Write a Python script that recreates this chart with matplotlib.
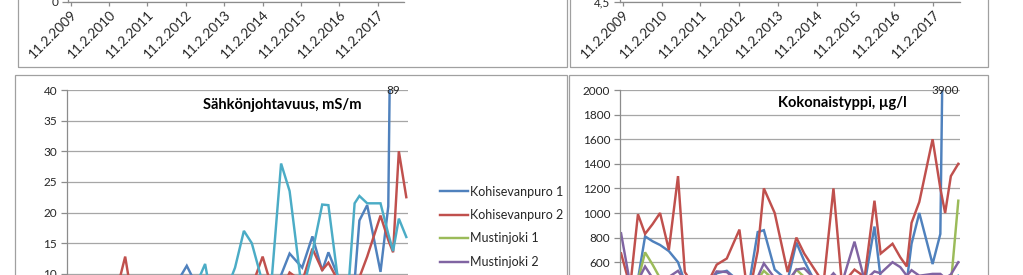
import matplotlib
matplotlib.use("Agg")
import matplotlib.pyplot as plt
from matplotlib.patches import Rectangle
import numpy as np
import pandas as pd

plt.rcParams["font.family"] = ["Lato", "DejaVu Sans"]

# ---------------------------------------------------------------- data
sample_dates = pd.to_datetime([
    "2009-01-25", "2009-04-21", "2009-07-03", "2009-09-08", "2009-11-18",
    "2010-01-27", "2010-04-20", "2010-07-15", "2010-09-17", "2010-12-03",
    "2011-02-20", "2011-05-01", "2011-07-14", "2011-10-17", "2012-02-13",
    "2012-05-06", "2012-08-03", "2012-09-30", "2013-01-10", "2013-05-11",
    "2013-08-02", "2013-10-15", "2014-01-25", "2014-04-15", "2014-07-17",
    "2014-10-05", "2015-01-31", "2015-05-07", "2015-08-07", "2015-10-04",
    "2016-01-24", "2016-04-06", "2016-06-06", "2016-07-21", "2016-10-02",
    "2017-02-04", "2017-04-18", "2017-06-02", "2017-07-26", "2017-10-04",
])

series_names = ["Kohisevanpuro 1", "Kohisevanpuro 2", "Mustinjoki 1",
                "Mustinjoki 2", "Mustinjoki 3"]
series_colors = ["#4F81BD", "#C0504D", "#9BBB59", "#8064A2", "#4BACC6"]

nan = float("nan")

# Sähkönjohtavuus, mS/m
cond_k1 = [6.5, 5.8, 7.2, 6.0, 5.5, 6.8, 7.5, 8.2, 6.1, 5.4,
           6.3, 7.0, 6.6, 7.8, 11.3, 8.4, 6.9, 7.4, 6.2, 5.9,
           7.1, 8.0, 6.7, 7.6, 9.8, 13.3, 11.0, 16.1, 10.5, 13.5,
           8.6, 7.3, 8.8, 18.7, 21.2, 10.3, 21.0, 89.0, nan, nan]
cond_k2 = [5.2, 4.8, 6.0, 5.1, 4.6, 5.5, 6.8, 12.8, 6.0, 4.9,
           5.6, 6.2, 5.8, 6.5, 7.4, 6.1, 5.7, 6.4, 5.3, 5.0,
           6.6, 7.9, 12.8, 8.1, 7.2, 10.2, 8.7, 14.1, 10.6, 11.8,
           8.2, 7.5, 8.0, 9.4, 12.8, 19.5, 15.5, 13.5, 30.0, 22.5]
cond_m1 = [3.1, 2.9, 3.4, 3.0, 2.8, 3.2, 3.6, 3.9, 3.3, 2.9,
           3.1, 3.5, 3.3, 3.7, 4.0, 3.6, 3.2, 3.4, 3.0, 2.9,
           3.5, 3.8, 3.6, 3.4, 3.9, 4.2, 3.7, 4.4, 4.0, 4.1,
           3.6, 3.4, 3.8, 4.3, 4.6, 4.2, 4.5, 4.8, 5.2, 4.9]
cond_m2 = [4.4, 4.1, 4.8, 4.3, 4.0, 4.6, 5.0, 5.4, 4.7, 4.2,
           4.5, 4.9, 4.6, 5.1, 5.5, 5.0, 4.6, 4.9, 4.4, 4.2,
           4.9, 5.3, 5.0, 4.8, 5.4, 5.8, 5.2, 6.0, 5.5, 5.7,
           5.1, 4.9, 5.3, 6.1, 6.4, 5.9, 6.2, 6.6, 7.1, 6.8]
cond_m3 = [6.0, 5.5, 6.6, 5.8, 5.2, 6.2, 7.0, 7.6, 6.4, 5.9,
           6.5, 7.1, 6.9, 7.4, 7.9, 8.0, 11.6, 6.0, 5.5, 11.0,
           17.0, 15.0, 8.5, 8.0, 28.0, 23.5, 7.0, 13.5, 21.3, 21.2,
           6.0, 7.0, 21.5, 22.7, 21.5, 21.5, 16.5, 13.7, 19.0, 16.0]

# Kokonaistyppi, µg/l
ntot_k1 = [450, 380, 460, 810, 770, 740, 690, 600, 440, 400,
           380, 420, 510, 530, 440, 380, 845, 860, 540, 450,
           760, 610, 440, 400, 460, 430, 470, 430, 890, 470,
           420, 400, 440, 750, 1000, 585, 830, 3900, nan, nan]
ntot_k2 = [672, 400, 990, 830, 910, 1000, 700, 1300, 520, 420,
           380, 450, 580, 630, 865, 300, 690, 1200, 1000, 520,
           800, 670, 535, 430, 1200, 420, 540, 480, 1100, 670,
           750, 640, 565, 920, 1090, 1600, 1200, 1000, 1300, 1400]
ntot_m1 = [420, 380, 450, 680, 580, 470, 430, 460, 400, 380,
           360, 390, 470, 480, 410, 380, 460, 530, 450, 420,
           540, 480, 430, 400, 470, 410, 440, 420, 480, 450,
           430, 410, 420, 460, 440, 430, 420, 410, 420, 1100]
ntot_m2 = [835, 420, 450, 565, 470, 430, 480, 530, 450, 410,
           390, 430, 525, 520, 430, 400, 480, 590, 470, 440,
           540, 550, 460, 420, 510, 430, 767, 450, 525, 510,
           600, 560, 490, 535, 490, 505, 505, 470, 500, 600]
ntot_m3 = [330, 310, 350, 360, 320, 300, 340, 380, 320, 300,
           290, 310, 350, 360, 330, 300, 360, 380, 340, 320,
           370, 360, 330, 310, 380, 340, 330, 320, 360, 350,
           330, 320, 340, 370, 380, 360, 350, 400, 420, 490]

cond_series = [cond_k1, cond_k2, cond_m1, cond_m2, cond_m3]
ntot_series = [ntot_k1, ntot_k2, ntot_m1, ntot_m2, ntot_m3]

date_ticks = pd.to_datetime([f"{y}-02-11" for y in range(2009, 2018)])
date_tick_labels = [f"11.2.{y}" for y in range(2009, 2018)]
x_start, x_end = pd.Timestamp("2009-01-15"), pd.Timestamp("2017-10-20")

cond_ticks = [0, 5, 10, 15, 20, 25, 30, 35, 40]
ntot_ticks = [0, 200, 400, 600, 800, 1000, 1200, 1400, 1600, 1800, 2000]
ph_ticks = [4.5, 5.0, 5.5, 6.0, 6.5, 7.0, 7.5]

cond_title = "Sähkönjohtavuus, mS/m"
ntot_title = "Kokonaistyppi, µg/l"

# ---------------------------------------------------------------- layout
W, H = 1023, 275
fig = plt.figure(figsize=(W / 100, H / 100), dpi=100)
fig.patch.set_facecolor("white")

GRID = "#A6A6A6"
AXIS = "#8C8C8C"
FRAME = "#A0A0A0"
TEXT = "#262626"
TICK_FS = 8.5
DATE_FS = 9.8
LINE_W = 1.75


def fx(px):
    return px / W


def fy(py):
    return 1 - py / H


def add_axes_px(x0, x1, y_top, y_bottom):
    return fig.add_axes([fx(x0), fy(y_bottom), (x1 - x0) / W, (y_bottom - y_top) / H])


def frame(x0, y0, x1, y1):
    fig.add_artist(Rectangle((fx(x0), fy(y1)), (x1 - x0) / W, (y1 - y0) / H,
                             transform=fig.transFigure, fill=False,
                             edgecolor=FRAME, linewidth=0.9))


def style_axes(ax, yticks, ylim, fmt=None):
    ax.set_xlim(x_start, x_end)
    ax.set_ylim(*ylim)
    ax.set_yticks(yticks)
    if fmt:
        ax.set_yticklabels([fmt(v) for v in yticks])
    for side in ("top", "right"):
        ax.spines[side].set_visible(False)
    for side in ("left", "bottom"):
        ax.spines[side].set_color(AXIS)
        ax.spines[side].set_linewidth(0.9)
    ax.yaxis.grid(True, color=GRID, linewidth=0.9)
    ax.set_axisbelow(True)
    ax.tick_params(axis="y", length=4, width=0.9, color=AXIS, labelsize=TICK_FS,
                   labelcolor=TEXT, pad=3)
    ax.set_xticks(date_ticks)
    ax.set_xticklabels(date_tick_labels, rotation=45, ha="right",
                       rotation_mode="anchor")
    ax.tick_params(axis="x", length=3, width=0.9, color=AXIS, labelsize=DATE_FS,
                   labelcolor=TEXT, pad=1.5)
    ax.patch.set_alpha(0)


# chart frames
frame(18, -10, 567, 66.7)
frame(569.5, -10, 988, 66.7)
frame(15, 75, 567, 300)
frame(569, 75, 988, 300)

# upper charts: only their date axes are in view
ax_tl = add_axes_px(68, 404, -240, 2)
style_axes(ax_tl, cond_ticks, (0, 40))
ax_tr = add_axes_px(620, 960, -240, 2)
style_axes(ax_tr, ph_ticks, (4.5, 7.5),
           fmt=lambda v: f"{v:.1f}".replace(".", ","))

# Sähkönjohtavuus
ax_c = add_axes_px(67, 408, 90, 335)
style_axes(ax_c, cond_ticks, (0, 40))
cond_lines = []
for name, color, vals in zip(series_names, series_colors, cond_series):
    ln, = ax_c.plot(sample_dates, vals, color=color, linewidth=LINE_W,
                    label=name, solid_joinstyle="miter")
    cond_lines.append(ln)
i_peak = int(np.nanargmax(cond_k1))
ax_c.text(sample_dates[i_peak], 40, f"{cond_k1[i_peak]:g}", ha="center",
          va="center", fontsize=TICK_FS, color=TEXT)
fig.text(fx(282), fy(105), cond_title, ha="center", va="center",
         fontsize=10.5, fontweight="bold", color="black")

# Kokonaistyppi
ax_n = add_axes_px(620, 960, 90, 336)
style_axes(ax_n, ntot_ticks, (0, 2000))
for name, color, vals in zip(series_names, series_colors, ntot_series):
    ax_n.plot(sample_dates, vals, color=color, linewidth=LINE_W, label=name,
              solid_joinstyle="miter")
j_peak = int(np.nanargmax(ntot_k1))
ax_n.text(sample_dates[j_peak], 2000, f"{ntot_k1[j_peak]:g}", ha="center",
          va="center", fontsize=TICK_FS, color=TEXT)
fig.text(fx(842), fy(103), ntot_title, ha="center", va="center",
         fontsize=10.5, fontweight="bold", color="black")

fig.legend(handles=cond_lines, loc="upper left",
           bbox_to_anchor=(fx(440), fy(185.5)), frameon=False,
           fontsize=9, handlelength=2.2, handletextpad=0.2,
           labelspacing=0.92, borderaxespad=0, borderpad=0,
           labelcolor=TEXT)

fig.savefig("out.png", dpi=100, facecolor="white")
